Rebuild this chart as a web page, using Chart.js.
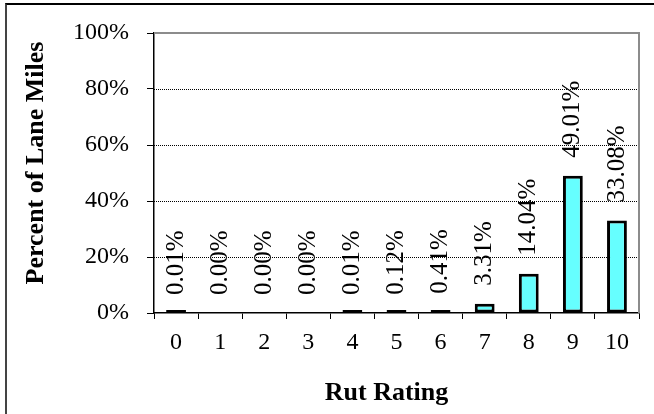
<!DOCTYPE html>
<html>
<head>
<meta charset="utf-8">
<script src="https://cdn.jsdelivr.net/npm/chart.js@4.4.0/dist/chart.umd.min.js"></script>
<style>
  html, body { margin: 0; padding: 0; background: #fff; }
  #wrap { position: relative; width: 654px; height: 414px; overflow: hidden; }
  #frame { position: absolute; left: 5px; top: 3px; right: -4px; bottom: -4px;
           border-top: 2px solid #000; border-left: 2px solid #444; pointer-events: none; }
  canvas { position: absolute; left: 0; top: 0; }
</style>
</head>
<body>
<div id="wrap">
  <canvas id="rutChart" width="654" height="414"></canvas>
  <div id="frame"></div>
</div>
<script>
const ratings = ["0", "1", "2", "3", "4", "5", "6", "7", "8", "9", "10"];
const lanePct = [0.01, 0.00, 0.00, 0.00, 0.01, 0.12, 0.41, 3.31, 14.04, 49.01, 33.08];
const yTicks = [0, 20, 40, 60, 80, 100];
const xTitle = "Rut Rating";
const yTitle = "Percent of Lane Miles";

const serif = "'Liberation Serif', 'Times New Roman', serif";

// dotted grid, value labels above bars, grey plot border, axis titles
const rutExtras = {
  id: "rutExtras",
  beforeDatasetsDraw(chart) {
    const { ctx, chartArea: a, scales: { y } } = chart;
    ctx.save();
    ctx.strokeStyle = "#000";
    ctx.lineWidth = 1;
    ctx.setLineDash([1, 1]);
    yTicks.slice(1, -1).forEach(v => {
      const py = Math.round(y.getPixelForValue(v)) + 0.5;
      ctx.beginPath();
      ctx.moveTo(a.left, py);
      ctx.lineTo(a.right, py);
      ctx.stroke();
    });
    ctx.restore();
  },
  afterDatasetsDraw(chart) {
    const { ctx, scales: { y } } = chart;
    const meta = chart.getDatasetMeta(0);
    ctx.save();
    ctx.font = `25px ${serif}`;
    ctx.fillStyle = "#000";
    ctx.textAlign = "left";
    ctx.textBaseline = "middle";
    meta.data.forEach((bar, i) => {
      const v = lanePct[i];
      ctx.save();
      ctx.translate(bar.x, y.getPixelForValue(v) - 18);
      ctx.rotate(-Math.PI / 2);
      ctx.fillText(v.toFixed(2) + "%", 0, 0);
      ctx.restore();
    });
    ctx.restore();
  },
  afterDraw(chart) {
    const { ctx, chartArea: a } = chart;
    ctx.save();
    ctx.strokeStyle = "#8c8c8c";
    ctx.lineWidth = 2;
    ctx.beginPath();
    ctx.moveTo(a.left, a.top);
    ctx.lineTo(a.right, a.top);
    ctx.lineTo(a.right, a.bottom);
    ctx.stroke();

    // axis titles
    ctx.fillStyle = "#000";
    ctx.font = `bold 26px ${serif}`;
    ctx.textAlign = "center";
    ctx.textBaseline = "alphabetic";
    ctx.fillText(xTitle, (a.left + a.right) / 2 - 10, a.bottom + 87);
    ctx.translate(a.left - 111, (a.top + a.bottom) / 2 - 10);
    ctx.rotate(-Math.PI / 2);
    ctx.fillText(yTitle, 0, 0);
    ctx.restore();
  }
};

new Chart(document.getElementById("rutChart"), {
  type: "bar",
  data: {
    labels: ratings,
    datasets: [{
      data: lanePct,
      backgroundColor: c => (c.raw > 0 ? "#66ffff" : "rgba(0,0,0,0)"),
      borderColor: "#000",
      borderWidth: c => (c.raw > 0 ? 3 : 0),
      borderSkipped: false,
      minBarLength: 3,
      barPercentage: 0.45,
      categoryPercentage: 1
    }]
  },
  options: {
    responsive: false,
    animation: false,
    devicePixelRatio: 1,
    layout: { padding: { top: 33, right: 15, left: 0, bottom: 0 } },
    plugins: {
      legend: { display: false },
      tooltip: { enabled: false }
    },
    scales: {
      x: {
        grid: { drawOnChartArea: false, tickLength: 6, color: "#000" },
        border: { color: "#000", width: 1.5 },
        ticks: { color: "#000", font: { family: serif, size: 24 }, padding: 9 },
        afterFit: s => { s.height = 101; }
      },
      y: {
        min: 0,
        max: 100,
        afterBuildTicks: s => { s.ticks = yTicks.map(v => ({ value: v })); },
        ticks: {
          color: "#000",
          font: { family: serif, size: 24 },
          padding: 18,
          callback: v => v + "%"
        },
        grid: { drawOnChartArea: false, tickLength: 7, color: "#000" },
        border: { color: "#000", width: 1.5 },
        afterFit: s => { s.width = 154; }
      }
    }
  },
  plugins: [rutExtras]
});
</script>
</body>
</html>
